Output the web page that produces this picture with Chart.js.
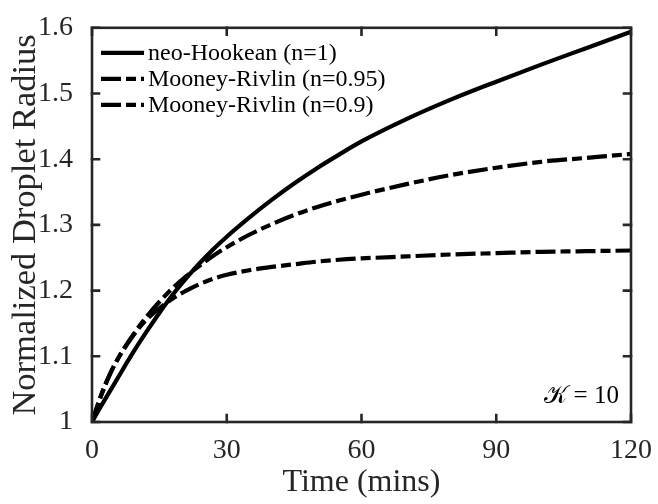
<!DOCTYPE html>
<html>
<head>
<meta charset="utf-8">
<script src="https://cdn.jsdelivr.net/npm/chart.js@4/dist/chart.umd.min.js"></script>
<style>
  html, body { margin: 0; padding: 0; background: #ffffff; }
  #wrap { width: 658px; height: 504px; position: relative; }
</style>
</head>
<body>
<div id="wrap"><canvas id="chart" width="658" height="504"></canvas></div>
<script>
// Time axis (minutes)
const times = [0, 2, 4, 6, 8, 10, 12, 15, 18, 21, 24, 27, 30, 35, 40, 45, 50, 55, 60, 70, 80, 90, 100, 110, 120];

// Normalized droplet radius for each material model
const neoHookean = [1.000, 1.024, 1.047, 1.070, 1.093, 1.115, 1.136, 1.166, 1.194, 1.219, 1.242, 1.263, 1.282,
  1.311, 1.338, 1.363, 1.386, 1.407, 1.427, 1.461, 1.491, 1.518, 1.544, 1.569, 1.594];
const mooneyRivlin095 = [1.000, 1.040, 1.073, 1.099, 1.121, 1.141, 1.159, 1.183, 1.204, 1.222, 1.238, 1.253, 1.266,
  1.285, 1.301, 1.315, 1.327, 1.337, 1.346, 1.362, 1.376, 1.387, 1.396, 1.402, 1.408];
const mooneyRivlin09 = [1.000, 1.040, 1.073, 1.099, 1.120, 1.139, 1.155, 1.173, 1.188, 1.200, 1.210, 1.218, 1.224,
  1.231, 1.236, 1.240, 1.244, 1.247, 1.249, 1.252, 1.255, 1.257, 1.259, 1.260, 1.261];

const seriesLabels = ['neo-Hookean (n=1)', 'Mooney-Rivlin (n=0.95)', 'Mooney-Rivlin (n=0.9)'];

// Tick values
const xTicks = [0, 30, 60, 90, 120];
const yTicks = [1, 1.1, 1.2, 1.3, 1.4, 1.5, 1.6];

// Annotation text and anchor (data coordinates)
const annotationText = '\u{1D4A6} = 10';
const annotationAt = { x: 109, y: 1.039 };

const SERIF = '"Liberation Serif", "Times New Roman", serif';
const AXIS_COLOR = '#262626';
const DASH_DOT = [20, 5, 10, 5];

function toPoints(ys) { return times.map((t, i) => ({ x: t, y: ys[i] })); }

const lineStyle = { borderColor: '#000000', borderWidth: 4.2, pointRadius: 0, fill: false,
  cubicInterpolationMode: 'monotone', borderCapStyle: 'butt', borderJoinStyle: 'round' };

// Box frame with inward ticks on all four sides
const framePlugin = {
  id: 'frame',
  afterDatasetsDraw(chart) {
    const { ctx, chartArea: a, scales: { x, y } } = chart;
    ctx.save();
    ctx.strokeStyle = AXIS_COLOR;
    ctx.lineWidth = 2.6;
    ctx.lineCap = 'square';
    ctx.strokeRect(a.left, a.top, a.right - a.left, a.bottom - a.top);
    const len = 7;
    ctx.beginPath();
    xTicks.forEach(v => {
      const px = x.getPixelForValue(v);
      ctx.moveTo(px, a.bottom); ctx.lineTo(px, a.bottom - len);
      ctx.moveTo(px, a.top); ctx.lineTo(px, a.top + len);
    });
    yTicks.forEach(v => {
      const py = y.getPixelForValue(v);
      ctx.moveTo(a.left, py); ctx.lineTo(a.left + len, py);
      ctx.moveTo(a.right, py); ctx.lineTo(a.right - len, py);
    });
    ctx.stroke();
    ctx.restore();
  }
};

// Legend drawn inside the plot, top-left, without a box
const insideLegend = {
  id: 'insideLegend',
  afterDraw(chart) {
    const { ctx, chartArea: a } = chart;
    ctx.save();
    const x0 = a.left + 9, x1 = a.left + 52, tx = a.left + 56;
    const rows = [a.top + 25, a.top + 51, a.top + 77];
    chart.data.datasets.forEach((ds, i) => {
      const yy = rows[i];
      ctx.strokeStyle = ds.borderColor;
      ctx.lineWidth = ds.borderWidth;
      ctx.lineCap = 'butt';
      ctx.setLineDash(ds.borderDash || []);
      ctx.beginPath(); ctx.moveTo(x0, yy); ctx.lineTo(x1, yy); ctx.stroke();
      ctx.setLineDash([]);
      ctx.fillStyle = '#000000';
      ctx.font = '24px ' + SERIF;
      ctx.textBaseline = 'middle';
      ctx.textAlign = 'left';
      ctx.fillText(ds.label, tx, yy + 1);
    });
    // parameter annotation
    const { x, y } = chart.scales;
    ctx.font = '25px ' + SERIF;
    ctx.textAlign = 'center';
    ctx.textBaseline = 'middle';
    ctx.fillStyle = '#000000';
    ctx.fillText(annotationText, x.getPixelForValue(annotationAt.x), y.getPixelForValue(annotationAt.y));
    ctx.restore();
  }
};

new Chart(document.getElementById('chart'), {
  type: 'line',
  data: {
    datasets: [
      Object.assign({ label: seriesLabels[0], data: toPoints(neoHookean) }, lineStyle),
      Object.assign({ label: seriesLabels[1], data: toPoints(mooneyRivlin095), borderDash: DASH_DOT }, lineStyle),
      Object.assign({ label: seriesLabels[2], data: toPoints(mooneyRivlin09), borderDash: DASH_DOT }, lineStyle)
    ]
  },
  options: {
    responsive: false,
    animation: false,
    devicePixelRatio: 1,
    layout: { padding: { left: 0, top: 19, right: 27, bottom: 0 } },
    plugins: { legend: { display: false }, tooltip: { enabled: false } },
    scales: {
      x: {
        type: 'linear', min: 0, max: 120,
        afterBuildTicks: s => { s.ticks = xTicks.map(v => ({ value: v })); },
        afterFit: s => { s.height = 82; },
        grid: { display: false }, border: { display: false },
        ticks: { color: AXIS_COLOR, font: { family: SERIF, size: 28 }, padding: 4, maxRotation: 0 },
        title: { display: true, text: 'Time (mins)', color: AXIS_COLOR,
          font: { family: SERIF, size: 32 }, padding: { top: 0, bottom: 2 } }
      },
      y: {
        type: 'linear', min: 1, max: 1.6,
        afterBuildTicks: s => { s.ticks = yTicks.map(v => ({ value: v })); },
        afterFit: s => { s.width = 92; },
        grid: { display: false }, border: { display: false },
        ticks: { color: AXIS_COLOR, font: { family: SERIF, size: 28 }, padding: 11,
          callback: v => String(Number(v.toFixed(1))) },
        title: { display: true, text: 'Normalized Droplet Radius', color: AXIS_COLOR,
          font: { family: SERIF, size: 34.5 }, padding: { top: 5, bottom: 0 } }
      }
    }
  },
  plugins: [framePlugin, insideLegend]
});
</script>
</body>
</html>
